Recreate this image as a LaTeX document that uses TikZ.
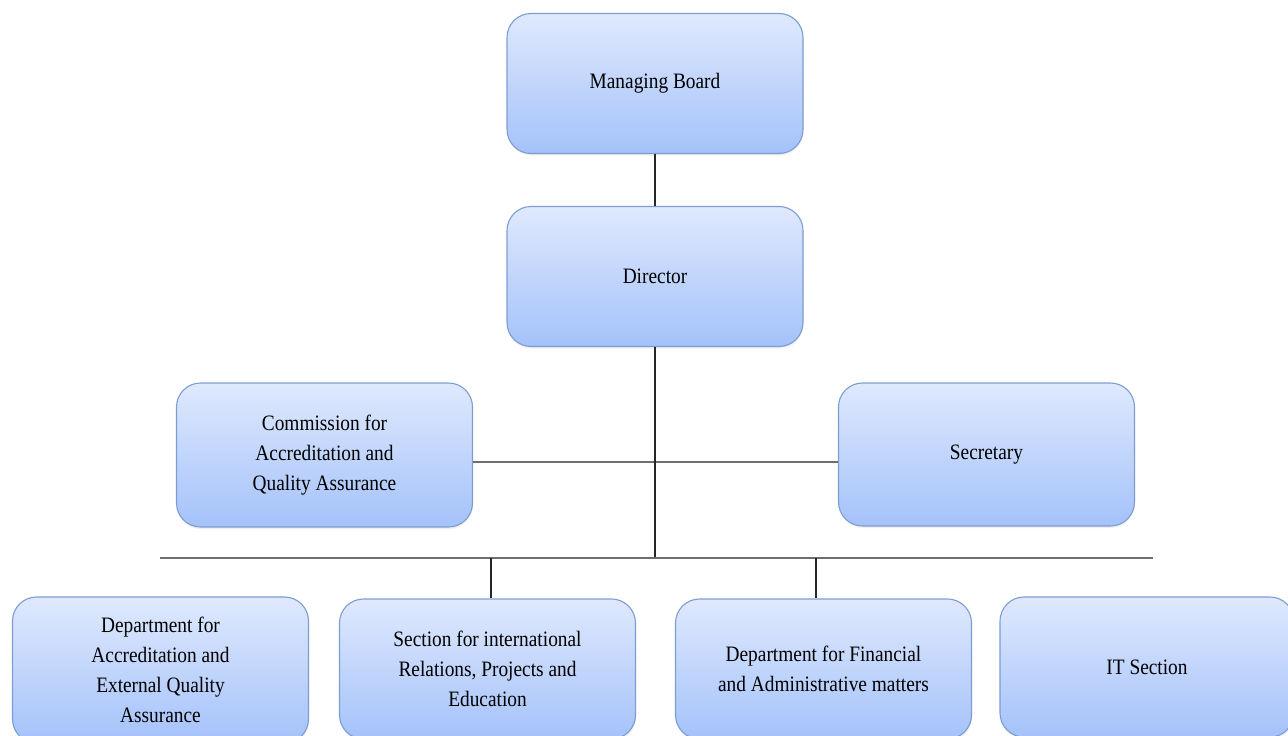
\documentclass[tikz,border=0pt]{standalone}
\usepackage{fontspec}
\setmainfont[FakeStretch=0.88]{Liberation Serif}
\usetikzlibrary{shadows}
\definecolor{boxtop}{HTML}{DFE9FD}
\definecolor{boxbot}{HTML}{A4C2FA}
\definecolor{boxline}{HTML}{7D9DD2}
\definecolor{busline}{HTML}{6E6E6E}
\tikzset{
  orgbox/.style={rectangle, rounded corners=24pt, draw=boxline, line width=1.1pt,
    top color=boxtop, bottom color=boxbot, minimum width=296pt, minimum height=140pt,
    align=center, inner sep=0pt,
    font=\fontsize{22}{30}\selectfont,
    drop shadow={opacity=0.12, shadow xshift=0.5pt, shadow yshift=-2pt}},
  vline/.style={draw=black!85, line width=1.2pt},
  hline/.style={draw=busline, line width=1.8pt},
}
\begin{document}
\begin{tikzpicture}[x=1pt,y=-1pt]
\useasboundingbox (0,0) rectangle (1288,736);
\fill[white] (0,0) rectangle (1288,736);
\clip (0,0) rectangle (1288,736);
\coordinate (mid) at (655,462);
\coordinate (busL) at (160,558);
\coordinate (busR) at (1153,558);
\coordinate (d2) at (491,558);
\coordinate (d3) at (816,558);
\node[orgbox] (mb) at (655,83.5) {Managing Board};
\node[orgbox] (dir) at (655,276.5) {Director};
\node[orgbox, minimum height=144pt] (comm) at (324.5,455) {Commission for\\Accreditation and\\Quality Assurance};
\node[orgbox, minimum height=143pt] (secr) at (986.5,454.5) {Secretary};
\node[orgbox, minimum height=146pt] (dacc) at (160.5,670) {Department for\\Accreditation and\\External Quality\\Assurance};
\node[orgbox] (sint) at (487.5,669) {Section for international\\Relations, Projects and\\Education};
\node[orgbox] (dfin) at (823.5,669) {Department for Financial\\and Administrative matters};
\node[orgbox, minimum width=294pt] (its) at (1147,667) {IT Section};
\draw[vline] (mb.south) -- (dir.north);
\draw[hline] (comm.east |- mid) -- (secr.west |- mid);
\draw[vline] (dir.south) -- (dir.south |- busL);
\draw[hline] (busL) -- (busR);
\draw[vline] (d2) -- (d2 |- sint.north);
\draw[vline] (d3) -- (d3 |- dfin.north);
\end{tikzpicture}
\end{document}
